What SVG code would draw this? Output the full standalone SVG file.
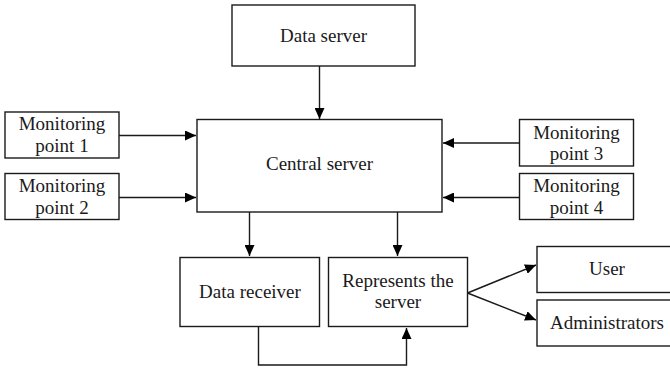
<svg xmlns="http://www.w3.org/2000/svg" width="670" height="370" viewBox="0 0 670 370">
<defs>
<marker id="ah" markerWidth="12" markerHeight="10" refX="11" refY="5" orient="auto" markerUnits="userSpaceOnUse">
<path d="M0,0 L11,5 L0,10 Z" fill="#000"/>
</marker>
<style>
.box{fill:#fff;stroke:#1a1a1a;stroke-width:1.4}
.t{font-family:"Liberation Serif","Times New Roman",serif;font-size:19px;fill:#1a1a1a;text-anchor:middle}
.c{fill:none;stroke:#1a1a1a;stroke-width:1.4;marker-end:url(#ah)}
</style>
</defs>
<rect width="670" height="370" fill="#fff"/>
<g id="connectors">
<path class="c" d="M319.5,66 V119"/>
<path class="c" d="M119,135.5 H196"/>
<path class="c" d="M119,197.5 H196"/>
<path class="c" d="M519.5,143 H443"/>
<path class="c" d="M519.5,197.5 H443"/>
<path class="c" d="M249.5,212 V256"/>
<path class="c" d="M397.5,212 V256"/>
<path class="c" d="M258.5,327 V365 H406.5 V328"/>
<path class="c" d="M467.5,293 L536,265"/>
<path class="c" d="M467.5,293 L536,320"/>
</g>
<g id="data-server">
<rect class="box" x="232" y="5" width="183" height="61"/>
<text class="t" x="323.5" y="42">Data server</text>
</g>
<g id="central-server">
<rect class="box" x="197" y="119.5" width="245" height="92.5"/>
<text class="t" x="319.5" y="170">Central server</text>
</g>
<g id="mp1">
<rect class="box" x="5" y="112" width="114" height="46"/>
<text class="t" x="62" y="130">Monitoring</text>
<text class="t" x="62" y="152">point 1</text>
</g>
<g id="mp2">
<rect class="box" x="5" y="173.5" width="114" height="46"/>
<text class="t" x="62" y="192">Monitoring</text>
<text class="t" x="62" y="213.5">point 2</text>
</g>
<g id="mp3">
<rect class="box" x="519.5" y="119.5" width="114" height="46.5"/>
<text class="t" x="576.5" y="139">Monitoring</text>
<text class="t" x="576.5" y="160">point 3</text>
</g>
<g id="mp4">
<rect class="box" x="519.5" y="173.5" width="114" height="46"/>
<text class="t" x="576.5" y="192">Monitoring</text>
<text class="t" x="576.5" y="213.5">point 4</text>
</g>
<g id="data-receiver">
<rect class="box" x="180" y="257.5" width="139.5" height="69"/>
<text class="t" x="250" y="298">Data receiver</text>
</g>
<g id="represents-server">
<rect class="box" x="328.5" y="257.5" width="139" height="69"/>
<text class="t" x="398" y="287">Represents the</text>
<text class="t" x="398" y="308">server</text>
</g>
<g id="user">
<rect class="box" x="537" y="246.5" width="145" height="46"/>
<text class="t" x="607" y="275">User</text>
</g>
<g id="administrators">
<rect class="box" x="537" y="300" width="145" height="46"/>
<text class="t" x="607" y="329">Administrators</text>
</g>
</svg>
